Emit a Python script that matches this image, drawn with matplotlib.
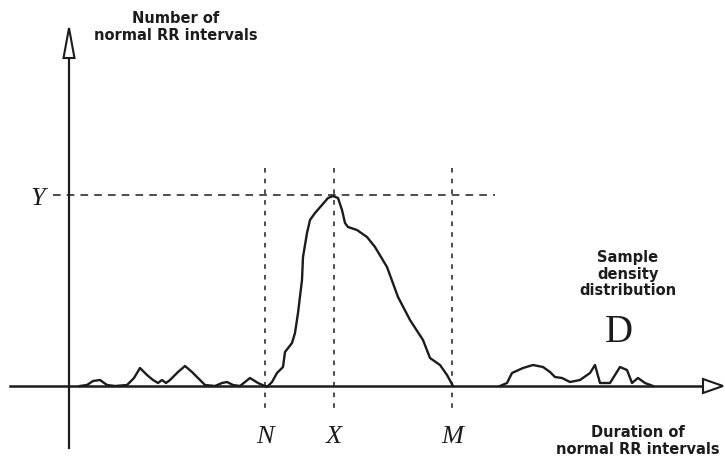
import matplotlib
matplotlib.use("Agg")
import matplotlib.pyplot as plt
from matplotlib.patches import Polygon

# Density trace, drawn in figure pixel units (x right, y down)
main_x = [240, 250, 258, 267, 272, 277, 283, 285, 292, 295, 298, 302, 303, 307, 310,
          315, 322, 328, 333, 338, 342, 345, 348, 357, 367, 375, 387, 398, 410, 423,
          430, 440, 447, 453]
main_y = [386, 378, 383, 387, 382, 373, 367, 352, 343, 333, 313, 280, 257, 233, 220,
          213, 205, 198, 196, 198, 210, 223, 227, 230, 237, 247, 267, 297, 320, 340,
          358, 365, 375, 386]

left_x = [80, 87, 93, 100, 107, 115, 127, 134, 140, 147, 153, 158, 162, 166, 170, 178,
          185, 192, 200, 205, 215, 222, 227, 233, 240]
left_y = [386, 385, 381, 380, 385, 386, 385, 378, 368, 375, 380, 383, 380, 383, 380, 372,
          366, 372, 380, 385, 386, 383, 382, 385, 386]

right_x = [500, 507, 512, 523, 533, 543, 550, 555, 562, 570, 580, 590, 595, 600, 610,
           620, 627, 632, 638, 645, 653]
right_y = [386, 383, 373, 368, 365, 367, 372, 377, 378, 382, 380, 373, 365, 383, 383,
           367, 370, 383, 378, 383, 386]

# Reference positions N, X, M and the peak height Y
marker_names = ["N", "X", "M"]
marker_x = [265, 334, 452]
peak_y = 195

ink = "#1c1c1c"

fig = plt.figure(figsize=(7.25, 4.62), dpi=100)
ax = fig.add_axes([0, 0, 1, 1])
ax.set_xlim(0, 725)
ax.set_ylim(462, 0)
ax.axis("off")

# axes with open arrowheads
ax.plot([69, 69], [448, 58], color=ink, lw=1.6)
ax.plot([10, 703], [386, 386], color=ink, lw=1.8)
ax.add_patch(Polygon([[69, 28], [63.5, 58], [74.5, 58]], closed=True,
                     facecolor="white", edgecolor=ink, lw=1.5, zorder=3))
ax.add_patch(Polygon([[723, 386], [703, 379], [703, 393]], closed=True,
                     facecolor="white", edgecolor=ink, lw=1.5, zorder=3))

# dashed guides
ax.plot([53, 495], [peak_y, peak_y], color=ink, lw=1.1, ls=(0, (5, 4)))
for name, xv in zip(marker_names, marker_x):
    ax.plot([xv, xv], [168, 410], color=ink, lw=1.1, ls=(0, (3, 4)))
    ax.text(xv, 437, name, ha="center", va="center", fontsize=19,
            family="Liberation Serif", style="italic", color=ink)

ax.text(38, 199, "Y", ha="center", va="center", fontsize=19,
        family="Liberation Serif", style="italic", color=ink)

# histogram trace
for xs, ys in [(left_x, left_y), (main_x, main_y), (right_x, right_y)]:
    ax.plot(xs, ys, color=ink, lw=1.7, solid_joinstyle="round")

bold = dict(family="DejaVu Sans", fontweight="bold", color=ink, ha="center",
            va="center", linespacing=1.15)
ax.text(176, 27, "Number of\nnormal RR intervals", fontsize=10.5, **bold)
ax.text(628, 274, "Sample\ndensity\ndistribution", fontsize=10.5, **bold)
ax.text(638, 441, "Duration of\nnormal RR intervals", fontsize=10.5, **bold)
ax.text(619, 333, "D", ha="center", va="center", fontsize=28,
        family="Liberation Serif", color=ink)

fig.savefig("out.png", dpi=100, facecolor="white")
